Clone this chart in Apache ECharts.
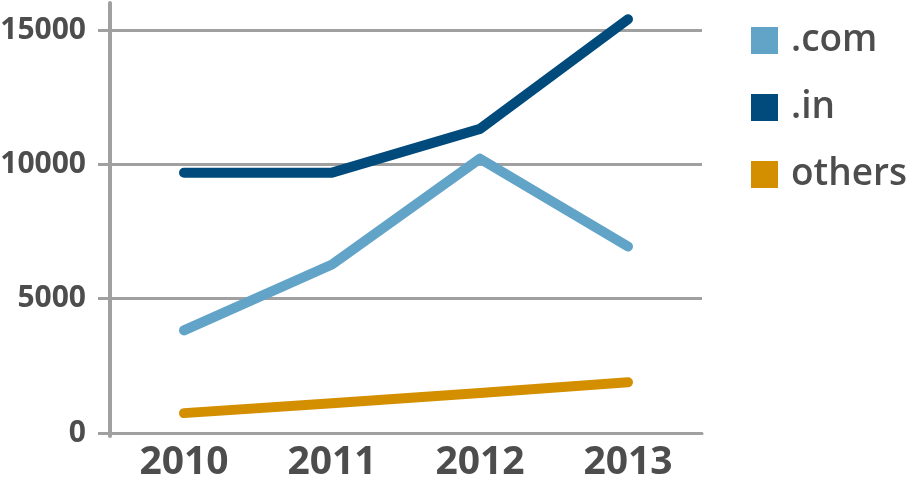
<!DOCTYPE html>
<html>
<head>
<meta charset="utf-8">
<script src="https://cdn.jsdelivr.net/npm/echarts@6/dist/echarts.min.js"></script>
<style>html,body{margin:0;padding:0;background:#fff}#c{width:910px;height:479px}</style>
</head>
<body>
<div id="c"></div>
<script>
var categories = ['2010', '2011', '2012', '2013'];
var comValues = [3820, 6270, 10210, 6940];
var inValues = [9690, 9690, 11320, 15400];
var otherValues = [740, 1110, 1490, 1890];
var seriesNames = ['.com', '.in', 'others'];
var colors = ['#62a3c8', '#004a7c', '#d38f00'];

var chart = echarts.init(document.getElementById('c'), null, {renderer: 'canvas'});
var font = '"Open Sans", "Noto Sans", sans-serif';
var grey = '#a0a0a0';
var textColor = '#4d4d4d';
function line(name, data, color) {
  return {
    name: name, type: 'line', data: data, symbol: 'none', silent: true, clip: false,
    itemStyle: {color: color},
    lineStyle: {color: color, width: 10, cap: 'round', join: 'round'},
    xAxisIndex: 0, yAxisIndex: 0, z: 5
  };
}
chart.setOption({
  animation: false,
  backgroundColor: '#fff',
  grid: [
    {left: 110, right: 208, top: 30, bottom: 46, containLabel: false, outerBoundsMode: 'none'},
    {left: 110, right: 208, top: 3, bottom: 43, containLabel: false, outerBoundsMode: 'none'}
  ],
  legend: {
    orient: 'vertical', left: 746, top: 17,
    icon: 'rect', itemWidth: 27, itemHeight: 27, itemGap: 30,
    textStyle: {fontFamily: font, fontSize: 37, fontWeight: 600, color: textColor, lineHeight: 27, padding: [0,0,0,8]},
    data: seriesNames
  },
  xAxis: [
    {
      type: 'category', data: categories, boundaryGap: true, gridIndex: 0,
      axisLine: {show: true, lineStyle: {color: grey, width: 3, cap: 'round'}},
      axisTick: {show: false},
      axisLabel: {fontFamily: font, fontSize: 39, fontWeight: 'bold', color: textColor, margin: 10}
    },
    {type: 'category', data: categories, gridIndex: 1, show: false}
  ],
  yAxis: [
    {
      type: 'value', min: 0, max: 15000, interval: 5000, gridIndex: 0,
      axisLine: {show: false},
      axisTick: {show: true, length: 12, lineStyle: {color: grey, width: 3}},
      splitLine: {show: true, lineStyle: {color: grey, width: 3}},
      axisLabel: {fontFamily: font, fontSize: 30, fontWeight: 'bold', color: textColor, margin: 24,
        formatter: function (v) { return String(v); }}
    },
    {
      type: 'value', min: 0, max: 1, gridIndex: 1,
      axisLine: {show: true, lineStyle: {color: grey, width: 4, cap: 'round'}},
      axisTick: {show: false}, splitLine: {show: false}, axisLabel: {show: false}
    }
  ],
  series: [
    line(seriesNames[0], comValues, colors[0]),
    line(seriesNames[1], inValues, colors[1]),
    line(seriesNames[2], otherValues, colors[2])
  ]
});
</script>
</body>
</html>
